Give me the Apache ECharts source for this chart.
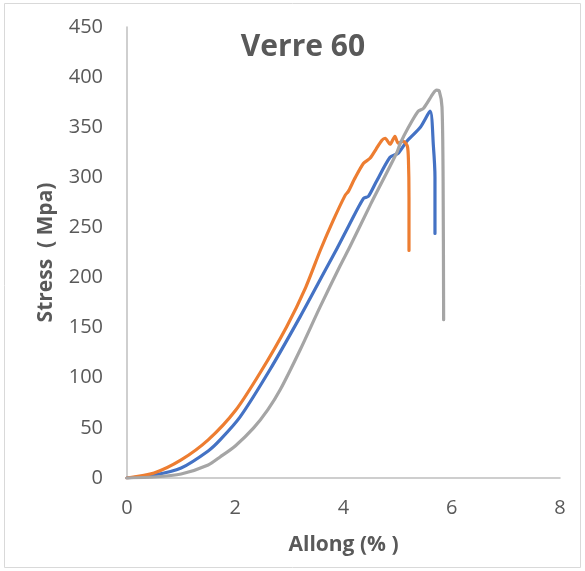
<!DOCTYPE html>
<html>
<head>
<meta charset="utf-8">
<script src="https://cdn.jsdelivr.net/npm/echarts@6/dist/echarts.min.js"></script>
<style>
  html, body { margin: 0; padding: 0; background: #fff; }
  #chart { width: 585px; height: 571px; }
</style>
</head>
<body>
<div id="chart"></div>
<script>
// Stress–strain curves for three glass-fibre (Verre 60) specimens: [allongement %, contrainte MPa]
const specimenBlue = [
  [0, 0], [0.5, 3], [1, 10], [1.5, 27], [1.72, 38], [2.09, 61], [2.64, 108], [3.2, 161],
  [3.66, 207], [3.88, 229], [4.1, 252], [4.37, 279], [4.46, 281], [4.6, 295], [4.86, 320],
  [5.01, 324], [5.17, 336], [5.42, 350], [5.6, 366], [5.66, 332], [5.69, 300], [5.69, 244]
];
const specimenOrange = [
  [0, 0], [0.5, 5], [1, 18], [1.5, 38], [2, 67], [2.46, 105], [2.95, 151],
  [3.3, 190], [3.57, 227], [3.81, 257], [4.03, 282], [4.09, 286], [4.2, 298], [4.37, 314],
  [4.49, 319], [4.6, 328], [4.71, 337], [4.77, 339], [4.86, 333], [4.95, 341], [5.01, 334],
  [5.11, 336], [5.18, 331], [5.2, 317], [5.21, 280], [5.21, 227]
];
const specimenGray = [
  [0, 0], [0.5, 1], [1, 4], [1.5, 13], [1.72, 21], [2, 32], [2.34, 50], [2.6, 68], [2.83, 88],
  [3.2, 128], [3.57, 171], [3.94, 212], [4.12, 231], [4.5, 273], [4.98, 324], [5.05, 334],
  [5.2, 350], [5.38, 366], [5.48, 369], [5.66, 384], [5.72, 387], [5.77, 386], [5.82, 370],
  [5.84, 300], [5.85, 158]
];
const xTicks = [0, 2, 4, 6, 8];
const yTicks = [0, 50, 100, 150, 200, 250, 300, 350, 400, 450];

const FONT = '"Open Sans", "Liberation Sans", sans-serif';
const TEXT = '#595959';
const AXIS = '#BFBFBF';

const chart = echarts.init(document.getElementById('chart'), null, { renderer: 'canvas' });

function curve(name, data, color) {
  return {
    name, type: 'line', data,
    showSymbol: false, symbol: 'none',
    lineStyle: { color, width: 3.2, cap: 'round', join: 'round' },
    itemStyle: { color },
    smooth: 0.25,
    animation: false
  };
}

chart.setOption({
  animation: false,
  title: {
    text: 'Verre 60',
    left: 298, top: 27, textAlign: 'center',
    textStyle: { fontFamily: FONT, fontSize: 30, fontWeight: 'bold', color: TEXT }
  },
  graphic: [{
    type: 'rect', silent: true,
    shape: { x: 4.5, y: 3.5, width: 576, height: 564 },
    style: { fill: 'none', stroke: '#D9D9D9', lineWidth: 1 }
  }],
  grid: { left: 127, right: 25, top: 27, bottom: 93, containLabel: false },
  xAxis: {
    type: 'value', min: xTicks[0], max: xTicks[xTicks.length - 1], interval: 2,
    name: 'Allong (% )', nameLocation: 'middle', nameGap: 57,
    nameTextStyle: { fontFamily: FONT, fontSize: 21, fontWeight: 'bold', color: TEXT },
    axisLine: { show: true, lineStyle: { color: AXIS, width: 1.5 } },
    axisTick: { show: false },
    splitLine: { show: false },
    axisLabel: { fontFamily: FONT, fontSize: 20, color: TEXT, margin: 20 }
  },
  yAxis: {
    type: 'value', min: yTicks[0], max: yTicks[yTicks.length - 1], interval: 50,
    name: 'Stress  ( Mpa)', nameLocation: 'middle', nameGap: 70, nameRotate: 90,
    nameTextStyle: { fontFamily: FONT, fontSize: 21, fontWeight: 'bold', color: TEXT },
    axisLine: { show: true, lineStyle: { color: AXIS, width: 1.5 } },
    axisTick: { show: false },
    splitLine: { show: false },
    axisLabel: { fontFamily: FONT, fontSize: 20, color: TEXT, margin: 24 }
  },
  series: [
    curve('Éprouvette 1', specimenBlue, '#4472C4'),
    curve('Éprouvette 2', specimenOrange, '#ED7D31'),
    curve('Éprouvette 3', specimenGray, '#A5A5A5')
  ]
});
</script>
</body>
</html>
